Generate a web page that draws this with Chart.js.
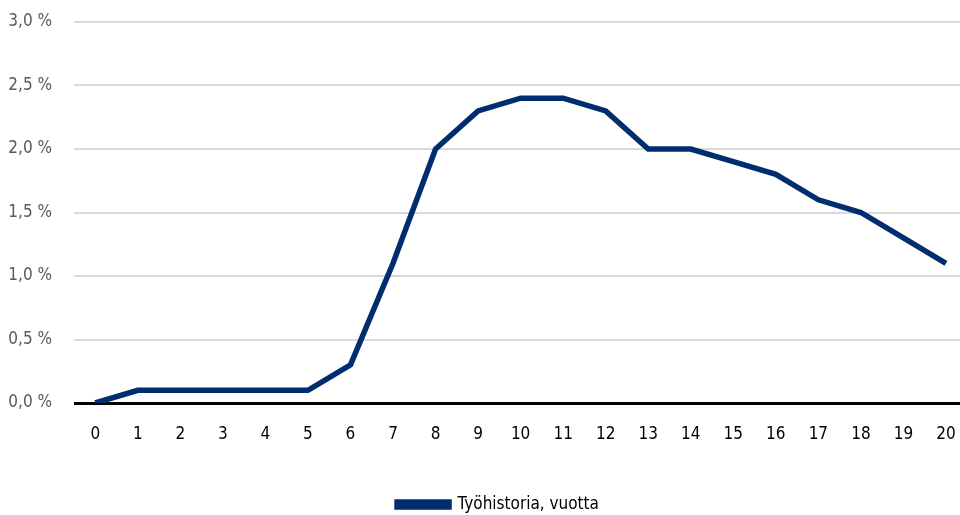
<!DOCTYPE html>
<html>
<head>
<meta charset="utf-8">
<script src="https://cdn.jsdelivr.net/npm/chart.js@4"></script>
<style>
  html, body { margin: 0; padding: 0; background: #fff; }
  #wrap { width: 960px; height: 515px; }
</style>
</head>
<body>
<div id="wrap"><canvas id="chart"></canvas></div>
<script>
const years = [0, 1, 2, 3, 4, 5, 6, 7, 8, 9, 10, 11, 12, 13, 14, 15, 16, 17, 18, 19, 20];
const shares = [0, 0.1, 0.1, 0.1, 0.1, 0.1, 0.3, 1.1, 2.0, 2.3, 2.4, 2.4, 2.3, 2.0, 2.0, 1.9, 1.8, 1.6, 1.5, 1.3, 1.1];
const seriesLabel = 'Työhistoria, vuotta';

const navy = '#002d6e';
// 'condensed' goes into the weight slot so the canvas font string asks for a narrow face
const baseFont = { family: '"Liberation Sans Narrow", "DejaVu Sans Condensed", "DejaVu Sans", sans-serif', weight: 'condensed', size: 17 };

const points = years.map((x, i) => ({ x: x, y: shares[i] }));

// legend in the original sits a bit right of the canvas centre
const legendShift = {
  id: 'legendShift',
  afterLayout(chart) {
    chart.legend.left += 18;
    chart.legend.right += 18;
  }
};

const config = {
  type: 'line',
  data: {
    datasets: [{
      label: seriesLabel,
      data: points,
      borderColor: navy,
      backgroundColor: navy,
      borderWidth: 5.5,
      pointRadius: 0,
      tension: 0
    }]
  },
  options: {
    responsive: true,
    maintainAspectRatio: false,
    animation: false,
    layout: { padding: { top: 22, right: 0, left: 0, bottom: -8 } },
    plugins: {
      legend: {
        position: 'bottom',
        labels: {
          boxWidth: 52,
          boxHeight: 5,
          color: '#000',
          font: baseFont,
          padding: 2
        }
      },
      tooltip: { enabled: false }
    },
    scales: {
      x: {
        type: 'linear',
        min: -0.5,
        max: 20.33,
        afterBuildTicks: axis => {
          axis.ticks = years.map(v => ({ value: v }));
        },
        afterFit: axis => {
          axis.paddingLeft = 0;
          axis.paddingRight = 0;
          axis.height = 91;
        },
        grid: { display: false },
        border: { display: false },
        ticks: {
          color: '#000',
          font: baseFont,
          padding: 13,
          autoSkip: false,
          maxRotation: 0
        }
      },
      y: {
        min: 0,
        max: 3,
        afterFit: axis => {
          axis.width = 74;
          axis.paddingTop = 0;
          axis.paddingBottom = 0;
        },
        ticks: {
          stepSize: 0.5,
          color: '#595959',
          padding: 22,
          font: baseFont,
          callback: v => v.toFixed(1).replace('.', ',') + ' %'
        },
        grid: {
          color: ctx => ctx.tick.value === 0 ? '#000' : '#d9d9d9',
          lineWidth: ctx => ctx.tick.value === 0 ? 3 : 2,
          drawTicks: false
        },
        border: { display: false }
      }
    }
  },
  plugins: [legendShift]
};

new Chart(document.getElementById('chart'), config);
</script>
</body>
</html>
